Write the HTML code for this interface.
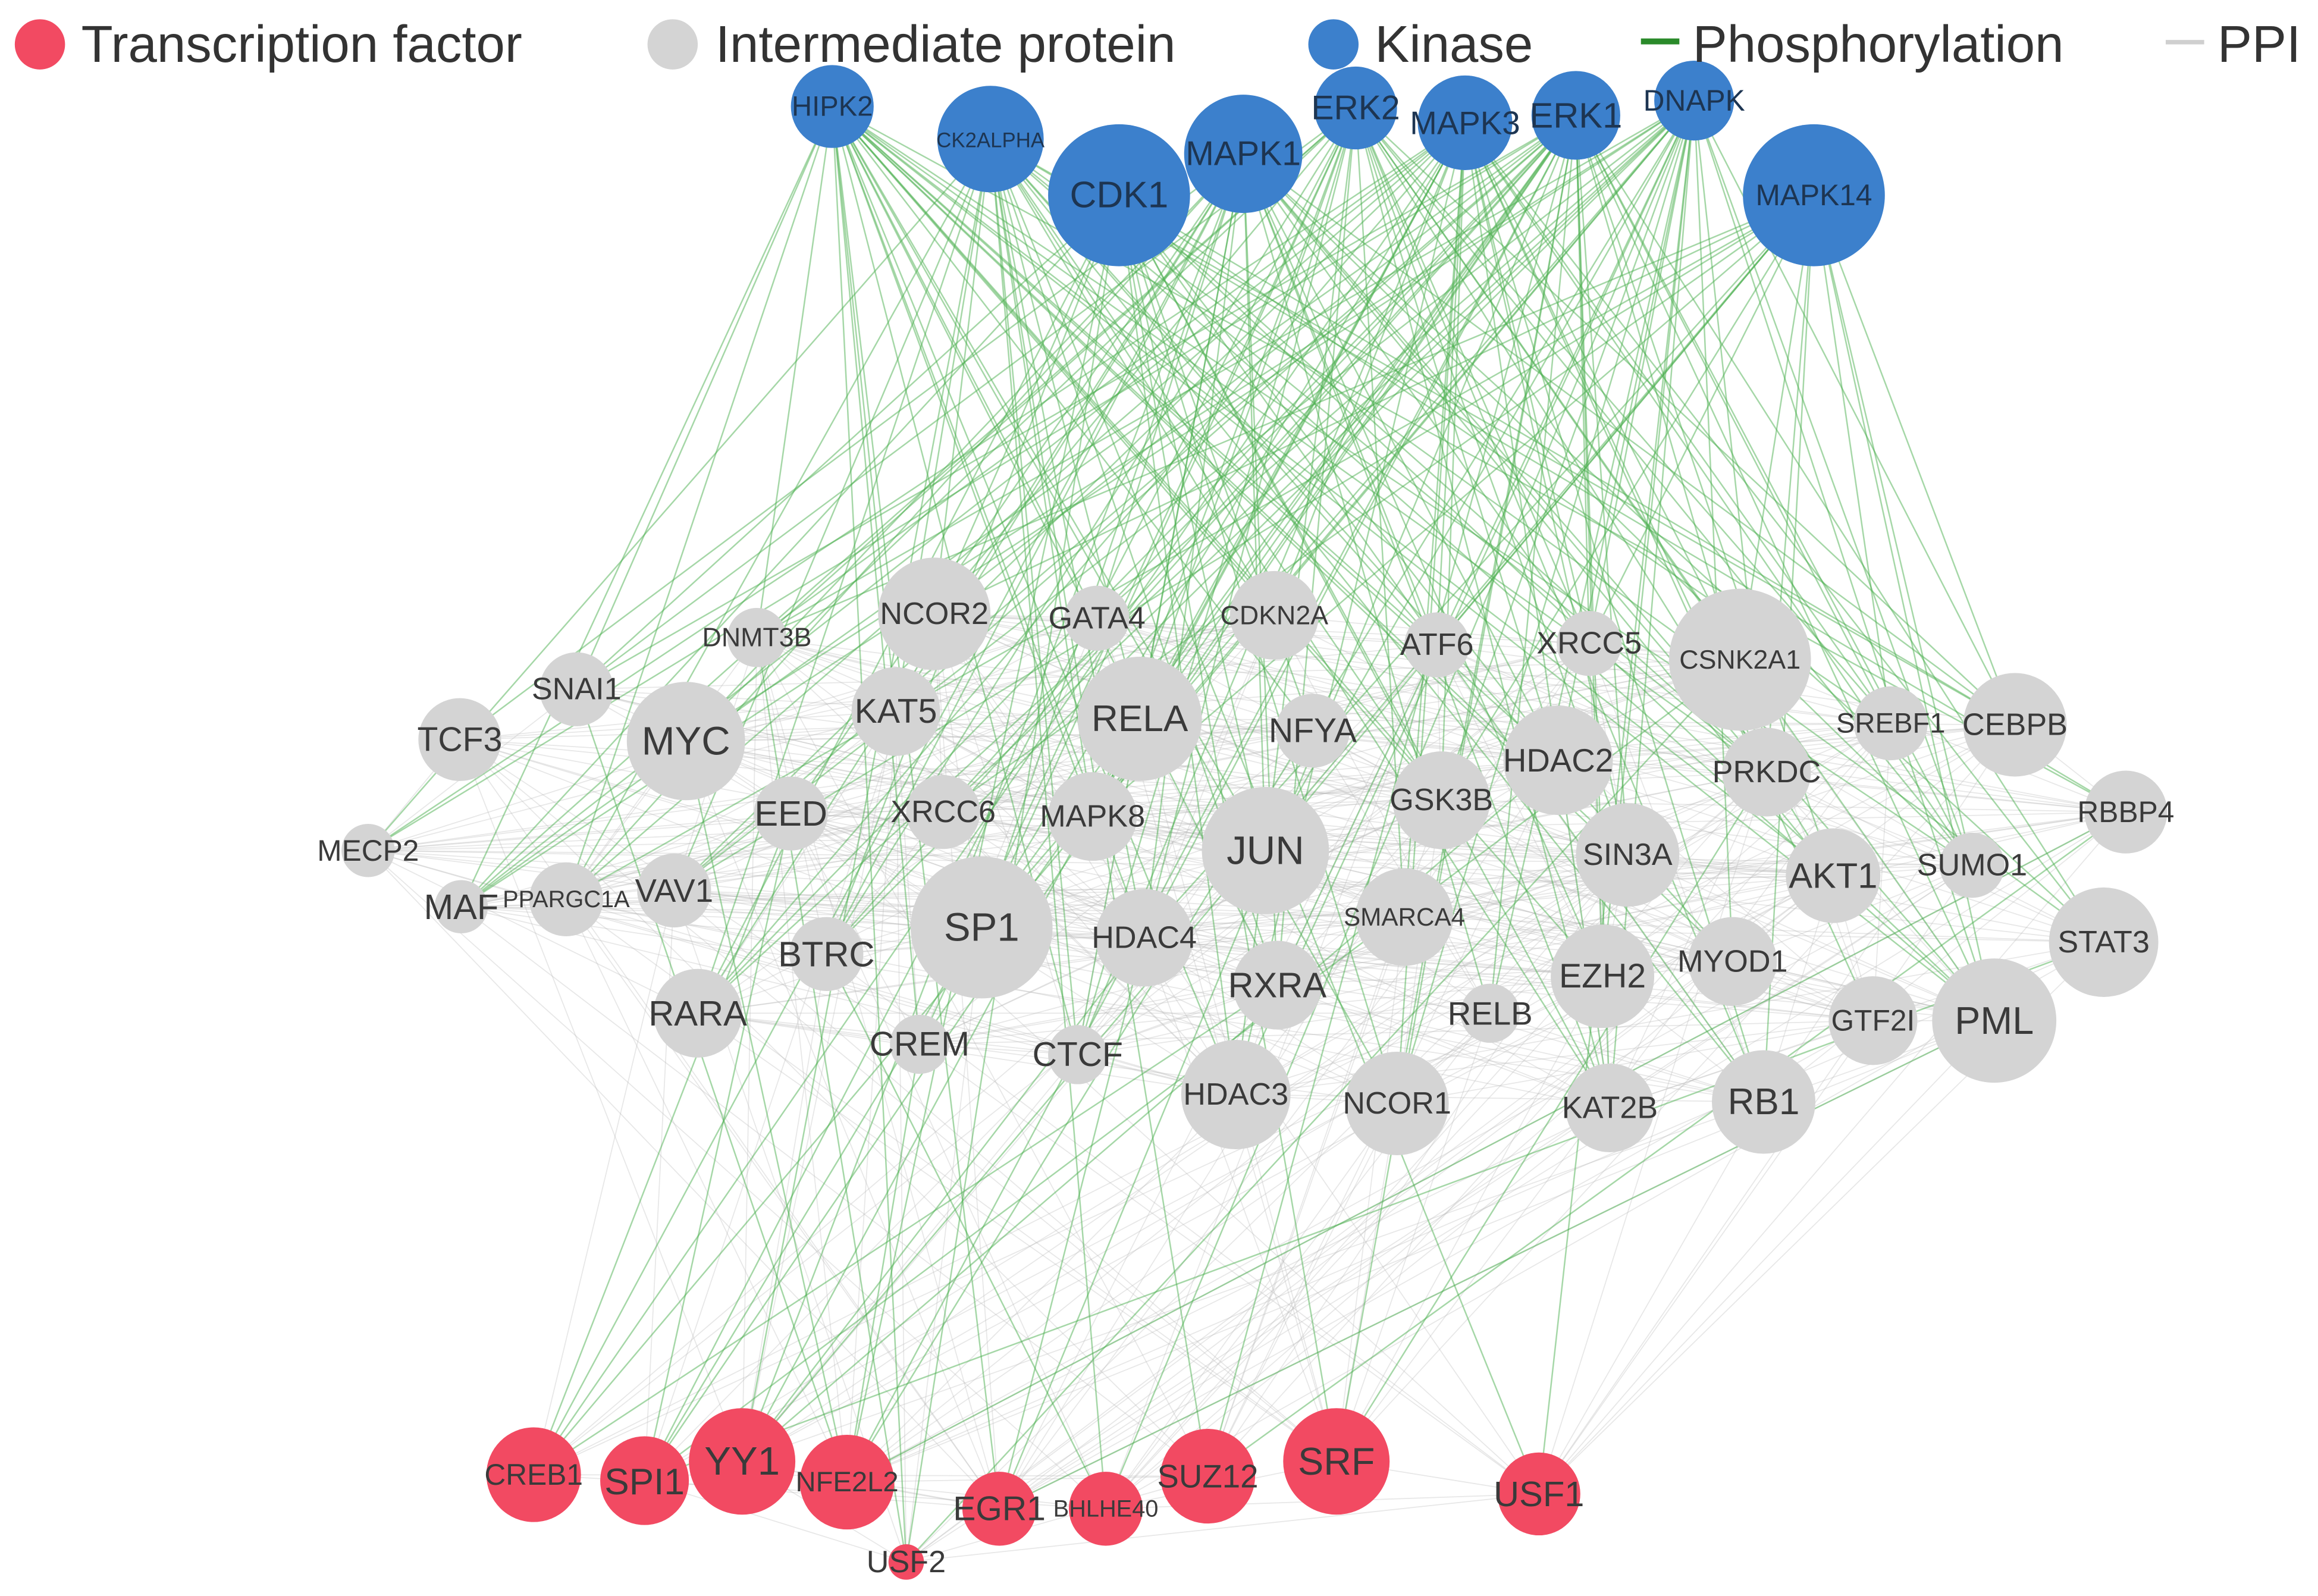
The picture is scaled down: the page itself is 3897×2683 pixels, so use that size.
<!DOCTYPE html>
<html><head><meta charset="utf-8">
<style>
html,body{margin:0;padding:0;background:#fff;width:3897px;height:2683px;overflow:hidden}
svg{display:block}
text{font-family:"Liberation Sans",sans-serif;text-anchor:middle;dominant-baseline:central}
.g circle{fill:#d4d4d4}.g text{fill:#3a3a3a}
.k circle{fill:#3c80cc}.k text{fill:#1d3552}
.t circle{fill:#f24a62}.t text{fill:#3a3a3a}
</style></head><body>
<svg id="s" width="3897" height="2683" viewBox="0 0 1568 1079" preserveAspectRatio="none" xmlns="http://www.w3.org/2000/svg">
<g id="edges"></g>
<g id="nodes">
<g class="k">
<circle cx="563" cy="72" r="28"/><text x="563" y="72" font-size="19">HIPK2</text>
<circle cx="670" cy="94" r="36"/><text x="670" y="95" font-size="14">CK2ALPHA</text>
<circle cx="757" cy="132" r="48"/><text x="757" y="132" font-size="25">CDK1</text>
<circle cx="841" cy="104" r="40"/><text x="841" y="104" font-size="23">MAPK1</text>
<circle cx="917" cy="73" r="28"/><text x="917" y="73" font-size="23">ERK2</text>
<circle cx="991" cy="83" r="32"/><text x="991" y="83" font-size="22">MAPK3</text>
<circle cx="1066" cy="78" r="30"/><text x="1066" y="78" font-size="24">ERK1</text>
<circle cx="1146" cy="68" r="27"/><text x="1146" y="68" font-size="20">DNAPK</text>
<circle cx="1227" cy="132" r="48"/><text x="1227" y="132" font-size="20">MAPK14</text>
</g>
<g class="g">
<circle cx="632" cy="415" r="38"/><text x="632" y="415" font-size="21">NCOR2</text>
<circle cx="742" cy="418" r="22"/><text x="742" y="418" font-size="21">GATA4</text>
<circle cx="862" cy="416" r="30"/><text x="862" y="416" font-size="18">CDKN2A</text>
<circle cx="512" cy="431" r="20"/><text x="512" y="431" font-size="18">DNMT3B</text>
<circle cx="972" cy="436" r="22"/><text x="972" y="436" font-size="21">ATF6</text>
<circle cx="1075" cy="435" r="22"/><text x="1075" y="435" font-size="21">XRCC5</text>
<circle cx="1177" cy="446" r="48"/><text x="1177" y="446" font-size="18">CSNK2A1</text>
<circle cx="390" cy="466" r="25"/><text x="390" y="466" font-size="21">SNAI1</text>
<circle cx="311" cy="500" r="28"/><text x="311" y="500" font-size="23">TCF3</text>
<circle cx="464" cy="501" r="40"/><text x="464" y="501" font-size="27">MYC</text>
<circle cx="606" cy="481" r="30"/><text x="606" y="481" font-size="23">KAT5</text>
<circle cx="771" cy="486" r="42"/><text x="771" y="486" font-size="25">RELA</text>
<circle cx="888" cy="494" r="25"/><text x="888" y="494" font-size="23">NFYA</text>
<circle cx="1279" cy="489" r="25"/><text x="1279" y="489" font-size="19">SREBF1</text>
<circle cx="1363" cy="490" r="35"/><text x="1363" y="490" font-size="21">CEBPB</text>
<circle cx="1054" cy="514" r="37"/><text x="1054" y="514" font-size="22">HDAC2</text>
<circle cx="1195" cy="522" r="30"/><text x="1195" y="522" font-size="21">PRKDC</text>
<circle cx="535" cy="550" r="25"/><text x="535" y="550" font-size="24">EED</text>
<circle cx="638" cy="549" r="25"/><text x="638" y="549" font-size="21">XRCC6</text>
<circle cx="739" cy="552" r="30"/><text x="739" y="552" font-size="21">MAPK8</text>
<circle cx="975" cy="541" r="33"/><text x="975" y="541" font-size="21">GSK3B</text>
<circle cx="856" cy="575" r="43"/><text x="856" y="575" font-size="27">JUN</text>
<circle cx="1438" cy="549" r="28"/><text x="1438" y="549" font-size="20">RBBP4</text>
<circle cx="249" cy="575" r="18"/><text x="249" y="575" font-size="20">MECP2</text>
<circle cx="1101" cy="578" r="35"/><text x="1101" y="578" font-size="21">SIN3A</text>
<circle cx="1240" cy="592" r="32"/><text x="1240" y="592" font-size="24">AKT1</text>
<circle cx="1334" cy="585" r="22"/><text x="1334" y="585" font-size="21">SUMO1</text>
<circle cx="312" cy="613" r="18"/><text x="312" y="613" font-size="24">MAF</text>
<circle cx="383" cy="608" r="25"/><text x="383" y="608" font-size="16">PPARGC1A</text>
<circle cx="456" cy="602" r="25"/><text x="456" y="602" font-size="22">VAV1</text>
<circle cx="664" cy="627" r="48"/><text x="664" y="627" font-size="27">SP1</text>
<circle cx="559" cy="645" r="25"/><text x="559" y="645" font-size="24">BTRC</text>
<circle cx="774" cy="634" r="33"/><text x="774" y="634" font-size="21">HDAC4</text>
<circle cx="950" cy="620" r="33"/><text x="950" y="620" font-size="17">SMARCA4</text>
<circle cx="1423" cy="637" r="37"/><text x="1423" y="637" font-size="21">STAT3</text>
<circle cx="1084" cy="660" r="35"/><text x="1084" y="660" font-size="23">EZH2</text>
<circle cx="1172" cy="650" r="30"/><text x="1172" y="650" font-size="21">MYOD1</text>
<circle cx="864" cy="666" r="30"/><text x="864" y="666" font-size="24">RXRA</text>
<circle cx="472" cy="685" r="30"/><text x="472" y="685" font-size="24">RARA</text>
<circle cx="1008" cy="685" r="20"/><text x="1008" y="685" font-size="22">RELB</text>
<circle cx="1267" cy="690" r="30"/><text x="1267" y="690" font-size="20">GTF2I</text>
<circle cx="1349" cy="690" r="42"/><text x="1349" y="690" font-size="26">PML</text>
<circle cx="622" cy="706" r="20"/><text x="622" y="706" font-size="23">CREM</text>
<circle cx="729" cy="713" r="20"/><text x="729" y="713" font-size="23">CTCF</text>
<circle cx="836" cy="740" r="37"/><text x="836" y="740" font-size="21">HDAC3</text>
<circle cx="945" cy="746" r="35"/><text x="945" y="746" font-size="21">NCOR1</text>
<circle cx="1089" cy="749" r="30"/><text x="1089" y="749" font-size="21">KAT2B</text>
<circle cx="1193" cy="745" r="35"/><text x="1193" y="745" font-size="25">RB1</text>
</g>
<g class="t">
<circle cx="361" cy="997" r="32"/><text x="361" y="997" font-size="20">CREB1</text>
<circle cx="436" cy="1001" r="30"/><text x="436" y="1002" font-size="25">SPI1</text>
<circle cx="502" cy="988" r="36"/><text x="502" y="988" font-size="27">YY1</text>
<circle cx="573" cy="1002" r="32"/><text x="573" y="1002" font-size="19">NFE2L2</text>
<circle cx="676" cy="1020" r="25"/><text x="676" y="1020" font-size="23">EGR1</text>
<circle cx="748" cy="1020" r="25"/><text x="748" y="1020" font-size="16">BHLHE40</text>
<circle cx="817" cy="998" r="32"/><text x="817" y="998" font-size="22">SUZ12</text>
<circle cx="904" cy="988" r="36"/><text x="904" y="988" font-size="26">SRF</text>
<circle cx="1041" cy="1010" r="28"/><text x="1041" y="1010" font-size="24">USF1</text>
<circle cx="613" cy="1056" r="12"/><text x="613" y="1056" font-size="21">USF2</text>
</g>
</g>
<g id="legend">
<circle cx="27" cy="30" r="17" fill="#f24a62"/>
<text x="55" y="30" font-size="35" fill="#333" style="text-anchor:start">Transcription factor</text>
<circle cx="455" cy="30" r="17" fill="#d4d4d4"/>
<text x="484" y="30" font-size="35" fill="#333" style="text-anchor:start">Intermediate protein</text>
<circle cx="902" cy="30" r="17" fill="#3c80cc"/>
<text x="930" y="30" font-size="35" fill="#333" style="text-anchor:start">Kinase</text>
<rect x="1110" y="26" width="26" height="4" fill="#2a8a2a"/>
<text x="1145" y="30" font-size="35" fill="#333" style="text-anchor:start">Phosphorylation</text>
<rect x="1465" y="27" width="26" height="3" fill="#cfcfcf"/>
<text x="1500" y="30" font-size="35" fill="#333" style="text-anchor:start">PPI</text>
</g>
</svg>
<script>
(function(){
var ns="http://www.w3.org/2000/svg";
function grab(cls){var out=[];document.querySelectorAll("."+cls+" circle").forEach(function(c){out.push([+c.getAttribute("cx"),+c.getAttribute("cy")]);});return out;}
var K=grab("k"),G=grab("g"),T=grab("t");
var seed=12345;function rnd(){seed=(seed*16807)%2147483647;return seed/2147483647;}
var eg=document.getElementById("edges");
function line(a,b,col,op,w){var l=document.createElementNS(ns,"line");l.setAttribute("x1",a[0]);l.setAttribute("y1",a[1]);l.setAttribute("x2",b[0]);l.setAttribute("y2",b[1]);l.setAttribute("stroke",col);l.setAttribute("stroke-opacity",op);l.setAttribute("stroke-width",w);eg.appendChild(l);}
var i,j;
for(i=0;i<G.length;i++)for(j=i+1;j<G.length;j++)if(rnd()<0.28)line(G[i],G[j],"#bbbbbb",0.35,0.7);
for(i=0;i<T.length;i++)for(j=0;j<G.length;j++)if(rnd()<0.2)line(T[i],G[j],"#bbbbbb",0.35,0.7);
for(i=0;i<T.length;i++)for(j=i+1;j<T.length;j++)if(rnd()<0.3)line(T[i],T[j],"#bbbbbb",0.35,0.7);
for(i=0;i<K.length;i++){for(j=0;j<G.length;j++)if(rnd()<0.5)line(K[i],G[j],"#4caf50",0.5,1);
for(j=0;j<T.length;j++)if(rnd()<0.3)line(K[i],T[j],"#4caf50",0.5,1);}
for(i=0;i<T.length;i++)for(j=0;j<G.length;j++)if(rnd()<0.05)line(T[i],G[j],"#4caf50",0.5,1);
})();
</script>
</body></html>
